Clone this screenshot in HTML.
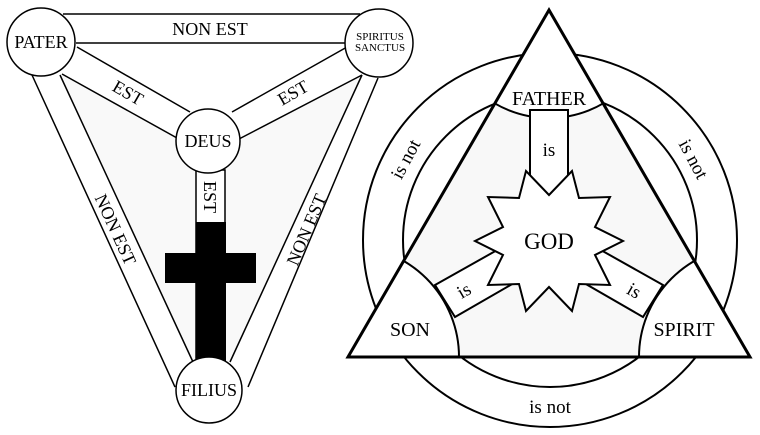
<!DOCTYPE html>
<html><head><style>html,body{margin:0;background:#fff;overflow:hidden;width:760px;height:435px}svg{display:block}text{font-family:"Liberation Serif","DejaVu Serif",serif !important}</style></head><body>
<svg width="760" height="435" viewBox="0 0 760 435" xmlns="http://www.w3.org/2000/svg">
<defs>
<clipPath id="tri"><polygon points="549,10 348,357 750,357"/></clipPath>
</defs>
<g stroke="#000" stroke-width="1.5" fill="none">
<polygon points="60,75 190,112 208,130 226,140 362,75 230,362 193,362" fill="#f9f9f9" stroke="none"/>
<polygon points="77,47 347,47 232,112 208,120 190,112" fill="#fff" stroke="none"/>
<line x1="63" y1="14" x2="360" y2="14"/>
<line x1="76" y1="43" x2="346" y2="43"/>
<polygon points="77,47 190,112 177,138 62,74" fill="#fff" stroke="none"/>
<polygon points="232,112 347,47 362,75 239,139" fill="#fff" stroke="none"/>
<line x1="77" y1="47" x2="190" y2="112"/>
<line x1="62" y1="74" x2="177" y2="138"/>
<line x1="232" y1="112" x2="347" y2="47"/>
<line x1="239" y1="139" x2="362" y2="75"/>
<line x1="32" y1="75" x2="175" y2="387"/>
<line x1="60" y1="75" x2="193" y2="362"/>
<line x1="248" y1="387" x2="378" y2="78"/>
<line x1="230" y1="362" x2="362" y2="75"/>
<rect x="196" y="170" width="29" height="195" fill="#fff"/>
</g>
<rect x="196" y="222" width="30" height="142" fill="#000"/>
<rect x="165" y="253" width="91" height="30" fill="#000"/>
<g stroke="#000" stroke-width="1.5" fill="#fff">
<circle cx="41" cy="42" r="34"/>
<circle cx="379" cy="43" r="34"/>
<circle cx="208" cy="141" r="32"/>
<circle cx="209" cy="390" r="33"/>
</g>
<g font-size="18" text-anchor="middle" fill="#000" font-family="Liberation Serif, DejaVu Serif, serif">
<text x="41" y="48">PATER</text>
<text x="208" y="147">DEUS</text>
<text x="209" y="396">FILIUS</text>
<text x="210" y="35">NON EST</text>
<text transform="translate(125,98) rotate(30)">EST</text>
<text transform="translate(296,98) rotate(-30)">EST</text>
<text transform="translate(204,197) rotate(90)">EST</text>
<text transform="translate(110,232) rotate(65.5)">NON EST</text>
<text transform="translate(312,232) rotate(-67)">NON EST</text>
<text x="380" y="40" font-size="11">SPIRITUS</text>
<text x="380" y="51" font-size="11">SANCTUS</text>
</g>
<g stroke="#000" stroke-width="2">
<circle cx="550" cy="240" r="187" fill="#fff"/>
<circle cx="550" cy="240" r="147" fill="#fff"/>
<polygon points="549,10 348,357 750,357" fill="#f8f8f8" stroke="none"/>
<g clip-path="url(#tri)" fill="#fff">
<circle cx="549" cy="10" r="108"/>
<circle cx="348" cy="357" r="111"/>
<circle cx="750" cy="357" r="111"/>
<polygon points="530,110 568,110 568,200 530,200"/>
<polygon points="435,285 515,240 533,272 455,317"/>
<polygon points="663,285 583,240 565,272 643,317"/>
</g>
<polygon points="623,241 595,255 610,285 579,284 572,311 549,287 526,311 519,284 488,285 503,255 475,241 503,227 488,197 519,198 526,171 549,195 572,171 579,198 610,197 595,227" fill="#fff"/>
<polygon points="549,10 348,357 750,357" fill="none" stroke-width="3"/>
</g>
<g font-size="20" text-anchor="middle" fill="#000" font-family="Liberation Serif, DejaVu Serif, serif">
<text x="549" y="105">FATHER</text>
<text x="410" y="336">SON</text>
<text x="684" y="336">SPIRIT</text>
<text x="549" y="249" font-size="23">GOD</text>
<text x="549" y="156" font-size="19">is</text>
<text transform="translate(467,296) rotate(-30)" font-size="19">is</text>
<text transform="translate(631,296) rotate(30)" font-size="19">is</text>
<text transform="translate(411,162) rotate(-62)" font-size="19">is not</text>
<text transform="translate(688,162) rotate(62)" font-size="19">is not</text>
<text x="550" y="413" font-size="19">is not</text>
</g>
</svg>
</body></html>
